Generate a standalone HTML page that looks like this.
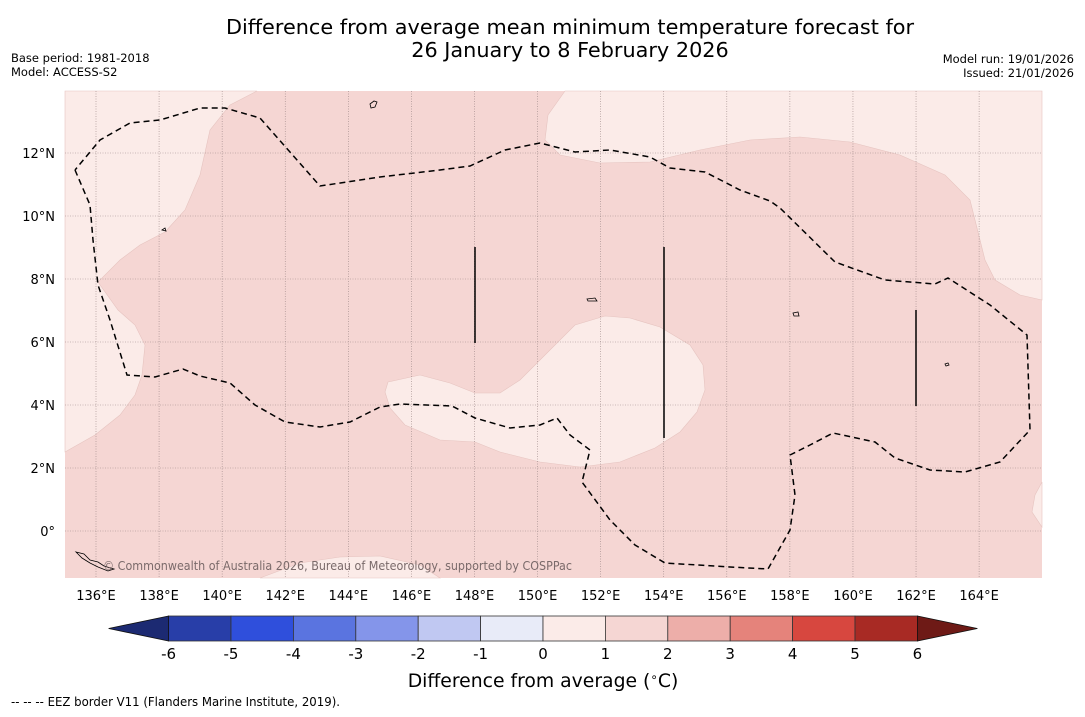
<!DOCTYPE html>
<html><head><meta charset="utf-8">
<style>
body{margin:0;background:#fff;width:1085px;height:713px;overflow:hidden;font-family:"DejaVu Sans","Liberation Sans",sans-serif;}
svg text{font-family:"DejaVu Sans","Liberation Sans",sans-serif;}
</style></head>
<body>
<svg width="1085" height="713" viewBox="0 0 1085 713">
<text x="570" y="34" font-size="20.8" text-anchor="middle">Difference from average mean minimum temperature forecast for</text>
<text x="570" y="57" font-size="20.8" text-anchor="middle">26 January to 8 February 2026</text>
<text x="11" y="62" font-size="11.5">Base period: 1981-2018</text>
<text x="11" y="76" font-size="11.5">Model: ACCESS-S2</text>
<text x="1074" y="63" font-size="11.5" text-anchor="end">Model run: 19/01/2026</text>
<text x="1074" y="77" font-size="11.5" text-anchor="end">Issued: 21/01/2026</text>

<g>
<rect x="65" y="91" width="977" height="487" fill="#f5d6d3"/>
<g fill="#fbebe8" stroke="#e6c4c0" stroke-width="0.6">
<polygon points="65,91 257,91 230,105 210,130 200,175 185,210 165,232 140,245 120,260 98,282 118,310 135,325 145,345 142,375 135,395 120,415 95,435 65,452"/>
<polygon points="565,91 548,115 545,140 560,155 600,163 650,162 700,150 750,140 800,137 850,142 900,155 945,175 970,200 980,240 985,260 995,280 1020,295 1042,300 1042,91"/>
<polygon points="388,382 420,375 450,383 475,393 500,393 520,380 530,370 545,355 575,325 605,316 630,318 660,327 690,345 703,365 705,390 697,412 680,432 655,448 620,462 580,467 540,462 500,452 475,442 440,440 405,425 390,408 385,392"/>
<polygon points="260,578 300,563 340,557 380,556 420,565 440,578"/>
<polygon points="1042,482 1035,495 1032,512 1042,527"/>
</g>
<g id="grid" stroke="#9a8585" stroke-width="0.6" stroke-dasharray="1,1.5"></g>
<polyline fill="none" stroke="#000" stroke-width="1.5" stroke-dasharray="6,4" points="75,170 90,205 93,240 98,285 110,320 127,375 155,377 183,369 200,376 230,383 255,405 285,422 320,427 350,422 380,407 400,404 452,406 475,418 510,428 540,425 557,418 570,435 590,450 582,482 610,520 635,545 665,563 730,567 768,569 790,530 795,495 790,455 810,445 833,433 875,442 895,458 930,470 965,472 1000,462 1030,430 1027,335 990,305 948,278 935,284 885,280 835,262 780,208 770,201 740,190 705,172 670,168 650,157 610,150 575,152 540,143 505,150 470,166 440,170 380,177 320,186 260,118 225,108 200,108 160,120 130,123 100,140 75,170"/>
<g stroke="#000" stroke-width="1.5">
<line x1="475" y1="247" x2="475" y2="343"/>
<line x1="664" y1="247" x2="664" y2="438"/>
<line x1="916" y1="310" x2="916" y2="406"/>
</g>
<g fill="none" stroke="#000" stroke-width="0.8">
<path d="M370,104 l4,-3 l3,1 l-2,5 l-4,1z"/><path d="M587,299 l8,-1 l2,3 l-9,0z"/><path d="M793,313 l5,-1 l1,4 l-5,0z"/>
<path d="M76,552 l8,2 l6,6 l8,2 l6,4 l10,3 l-6,2 l-10,-4 l-8,-4 l-8,-5z"/><path d="M945,364 l3,-1 l1,2 l-3,1z"/><path d="M162,230 l3,-2 l1,3z"/>
</g>
<text x="103" y="570" font-size="12" fill="#7a6a6a" textLength="469" lengthAdjust="spacingAndGlyphs">© Commonwealth of Australia 2026, Bureau of Meteorology, supported by COSPPac</text>
</g>
<g id="axislabels" font-size="13"></g>
<g id="colorbar"></g>
<text x="543" y="687" font-size="18.8" text-anchor="middle">Difference from average (<tspan dy="-6" font-size="12">∘</tspan><tspan dy="6">C)</tspan></text>
<text x="11" y="706" font-size="12" textLength="329" lengthAdjust="spacingAndGlyphs">--  --  -- EEZ border V11 (Flanders Marine Institute, 2019).</text>
</svg>
<script>
const lonTicks=[136,138,140,142,144,146,148,150,152,154,156,158,160,162,164];
const latTicks=[0,2,4,6,8,10,12];
const cbLevels=[-6,-5,-4,-3,-2,-1,0,1,2,3,4,5,6];
const cbColors=["#283ea8","#2f4fdc","#5a74e0","#8495ea","#c0c8f2","#e8ebf8","#fbebe8","#f5d6d3","#edaea9","#e5837b","#d7473f","#a82a24"];
const cbLow="#1c2a72", cbHigh="#6e1a16";
const NS="http://www.w3.org/2000/svg";
const xLon=l=>96+(l-136)*31.54;
const yLat=l=>531-l*31.5;
const xCb=v=>543+v*62.4;
function mk(t,a,p){const e=document.createElementNS(NS,t);for(const k in a)e.setAttribute(k,a[k]);p.appendChild(e);return e;}
const grid=document.getElementById('grid'), al=document.getElementById('axislabels'), cb=document.getElementById('colorbar');
lonTicks.forEach(l=>{
  const ln=mk('line',{x1:xLon(l),x2:xLon(l),y1:91,y2:578},grid);
  
  
  const t=mk('text',{x:xLon(l),y:600,'text-anchor':'middle'},al);t.textContent=l+'°E';
  
  
});
latTicks.forEach(l=>{
  const ln=mk('line',{x1:65,x2:1042,y1:yLat(l),y2:yLat(l)},grid);
  
  
  const t=mk('text',{x:55,y:yLat(l)+5,'text-anchor':'end'},al);t.textContent=l===0?'0°':l+'°N';
  
  
});
const y0=616,h=25;
cbColors.forEach((c,i)=>{
  const r=mk('rect',{x:xCb(cbLevels[i]),y:y0,width:xCb(cbLevels[i+1])-xCb(cbLevels[i]),height:h,fill:c,stroke:'#333','stroke-width':0.8},cb);
  
  
});
const lo=mk('polygon',{points:`${xCb(-6)},${y0} ${xCb(-6)-60},${y0+h/2} ${xCb(-6)},${y0+h}`,fill:cbLow,stroke:'#111','stroke-width':0.8},cb);


const hi=mk('polygon',{points:`${xCb(6)},${y0} ${xCb(6)+60},${y0+h/2} ${xCb(6)},${y0+h}`,fill:cbHigh,stroke:'#111','stroke-width':0.8},cb);


cbLevels.forEach(v=>{
  const t=mk('text',{x:xCb(v),y:659,'text-anchor':'middle','font-size':15},cb);t.textContent=v;
  
  
});
</script>
</body></html>
